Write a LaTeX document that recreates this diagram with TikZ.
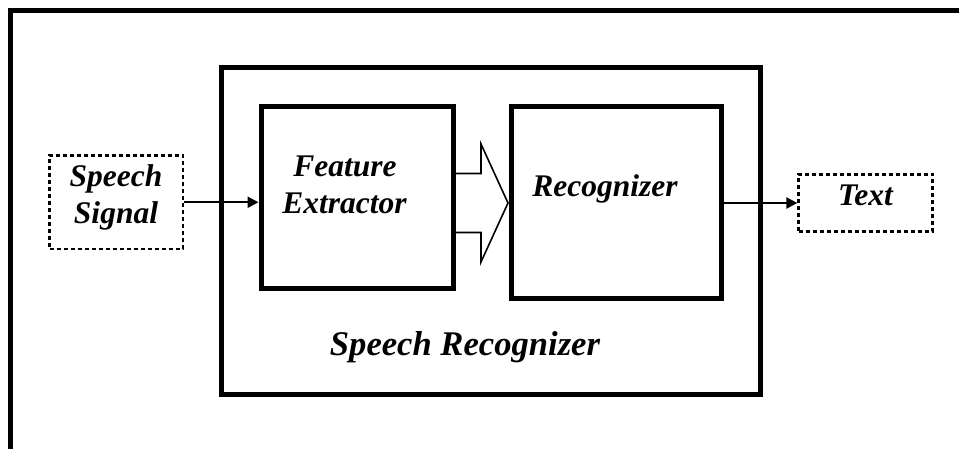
\documentclass[tikz,border=0pt]{standalone}
\usepackage{fontspec}
\setmainfont{Liberation Serif}
\usetikzlibrary{arrows.meta,calc}
\tikzset{
  thickbox/.style={draw,line width=5pt,rectangle,inner sep=0pt},
  dashbox/.style={draw,line width=2.2pt,rectangle,inner sep=0pt,dash pattern=on 4pt off 3pt},
  lbl/.style={anchor=base,inner sep=0pt,font=\fontsize{31.5}{37}\selectfont\bfseries\itshape},
  biglbl/.style={anchor=base,inner sep=0pt,font=\fontsize{34.6}{40}\selectfont\bfseries\itshape},
  arr/.style={line width=2.2pt,-{Triangle[length=11pt,width=11pt]}},
  blockarrow/.style={line width=1.6pt,line join=miter},
}
\begin{document}
\begin{tikzpicture}[x=1pt,y=-1pt]
\useasboundingbox (0,0) rectangle (959,449);
% outer frame (top and left only)
\draw[line width=5pt] (10.5,449) -- (10.5,10.5) -- (959,10.5);
% boxes
\node[thickbox,minimum width=538.5pt,minimum height=327pt] (sr) at (490.75,231) {};
\node[thickbox,minimum width=192pt,minimum height=182.5pt] (fe) at (357,197.75) {};
\node[thickbox,minimum width=210.5pt,minimum height=192.5pt] (rec) at (616.25,202.75) {};
\node[dashbox,minimum width=133.5pt,minimum height=93.5pt] (sig) at (116.25,202.25) {};
\node[dashbox,minimum width=134pt,minimum height=57pt] (txt) at (865.5,203) {};
% labels
\node[lbl] (sigA) at (116,187) {Speech};
\node[lbl] (sigB) at (116,224) {Signal};
\node[lbl] (feA) at (345,177) {Feature};
\node[lbl] (feB) at (344.5,214) {Extractor};
\node[lbl] (recL) at (605,197) {Recognizer};
\node[lbl] (txtL) at (865.5,206) {Text};
\node[biglbl] (srL) at (465,355) {Speech Recognizer};
% connectors
\draw[arr] (sig.east) -- (sig.east -| fe.west);
\draw[arr] (rec.east |- txt.west) -- (txt.west);
% block arrow between feature extractor and recognizer
\coordinate (tip) at ($(rec.west)+(0,0.25)$);
\draw[blockarrow]
  ($(fe.east |- tip)+(-2.5,-29.5)$) -- ($(tip)+(-27.5,-29.5)$) -- ($(tip)+(-27.5,-59)$)
  -- ($(tip)+(-0.5,0)$)
  -- ($(tip)+(-27.5,59)$) -- ($(tip)+(-27.5,29.5)$) -- ($(fe.east |- tip)+(-2.5,29.5)$);
\end{tikzpicture}
\end{document}
